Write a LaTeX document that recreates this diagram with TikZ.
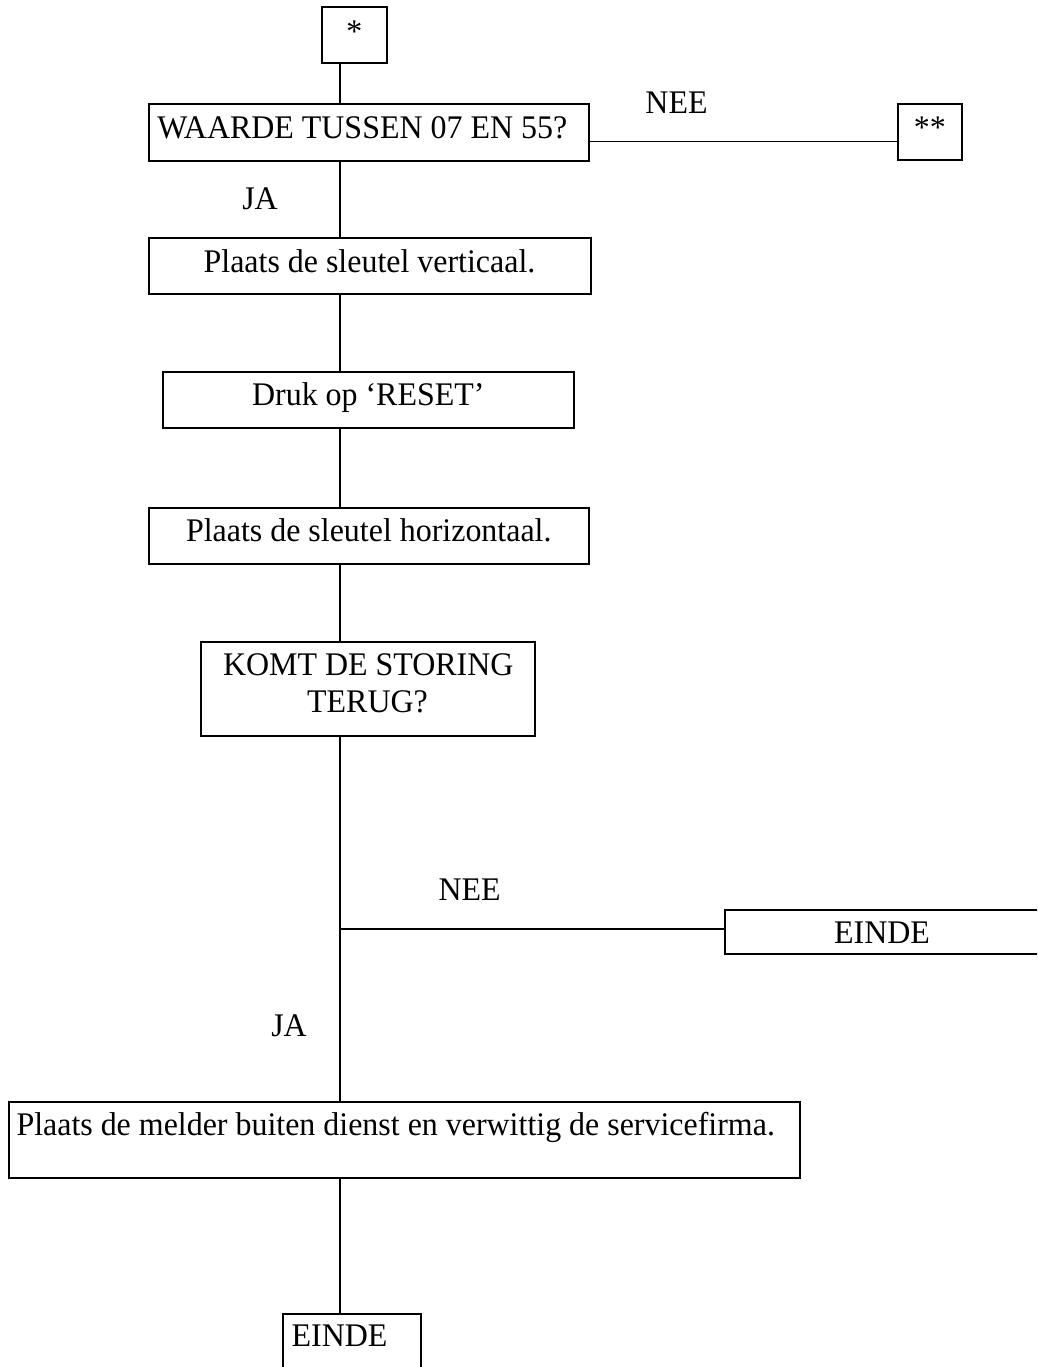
\documentclass[tikz,border=0pt]{standalone}
\usepackage{fontspec}
\setmainfont[FakeStretch=0.968]{Liberation Serif}
\tikzset{
  box/.style={draw, line width=2pt, inner sep=0pt, outer sep=0pt},
  conn/.style={line width=1.2pt},
  lbl/.style={inner sep=0pt, outer sep=0pt, anchor=base, font=\fontsize{33}{37}\selectfont},
  lblw/.style={lbl, anchor=base west}
}
\begin{document}
\begin{tikzpicture}[x=1pt,y=-1pt]
\useasboundingbox (0,0) rectangle (1037,1367);
\fill[white] (0,0) rectangle (1037,1367);
\begin{scope}
\clip (0,0) rectangle (1037,1367);
% boxes
\node[box, minimum width=65.4pt, minimum height=56pt] (star) at (354.3,35.3) {};
\node[box, minimum width=440.4pt, minimum height=57pt] (waarde) at (368.8,132.5) {};
\node[box, minimum width=64.8pt, minimum height=56pt] (dstar) at (929.9,132) {};
\node[box, minimum width=442pt, minimum height=56pt] (vert) at (369.5,266) {};
\node[box, minimum width=411.3pt, minimum height=55.7pt] (druk) at (368.3,400.2) {};
\node[box, minimum width=440.3pt, minimum height=56pt] (hor) at (368.8,535.7) {};
\node[box, minimum width=334.3pt, minimum height=94pt] (komt) at (367.8,688.7) {};
\node[box, minimum width=375pt, minimum height=44.3pt] (einde1) at (912.5,932.2) {};
\node[box, minimum width=791pt, minimum height=75.7pt] (melder) at (404.1,1139.8) {};
\node[box, minimum width=138.3pt, minimum height=110pt] (einde2) at (351.85,1369) {};
% texts
\node[lbl] (tstar) at (354.3,42.7) {*};
\node[lblw] (twaarde) at (157.3,138.5) {WAARDE TUSSEN 07 EN 55?};
\node[lbl] (tdstar) at (929.9,139) {**};
\node[lbl] (tnee1) at (676.5,113.3) {NEE};
\node[lbl] (tja1) at (260,209.3) {JA};
\node[lbl] (tvert) at (369.5,272) {Plaats de sleutel verticaal.};
\node[lbl] (tdruk) at (368.3,405.7) {Druk op ‘RESET’};
\node[lbl] (thor) at (368.8,541.7) {Plaats de sleutel horizontaal.};
\node[lbl] (tkomt1) at (368.3,675) {KOMT DE STORING};
\node[lbl] (tkomt2) at (367.5,712.3) {TERUG?};
\node[lbl] (tnee2) at (469.6,900.7) {NEE};
\node[lbl] (teinde1) at (882,943.3) {EINDE};
\node[lbl] (tja2) at (289,1036) {JA};
\node[lblw] (tmelder) at (16.5,1135.3) {Plaats de melder buiten dienst en verwittig de servicefirma.};
\node[lblw] (teinde2) at (291.7,1346) {EINDE};
% connectors
\coordinate (sp) at (340,0);
\coordinate (nee1) at (0,141.5);
\coordinate (split) at (340,929);
\draw[conn] (star.south -| sp) -- (waarde.north -| sp);
\draw[conn] (waarde.south -| sp) -- (vert.north -| sp);
\draw[conn] (vert.south -| sp) -- (druk.north -| sp);
\draw[conn] (druk.south -| sp) -- (hor.north -| sp);
\draw[conn] (hor.south -| sp) -- (komt.north -| sp);
\draw[conn] (komt.south -| sp) -- (melder.north -| sp);
\draw[conn] (melder.south -| sp) -- (einde2.north -| sp);
\draw[conn] (waarde.east |- nee1) -- (dstar.west |- nee1);
\draw[conn] (split) -- (einde1.west |- split);
\end{scope}
\end{tikzpicture}
\end{document}
